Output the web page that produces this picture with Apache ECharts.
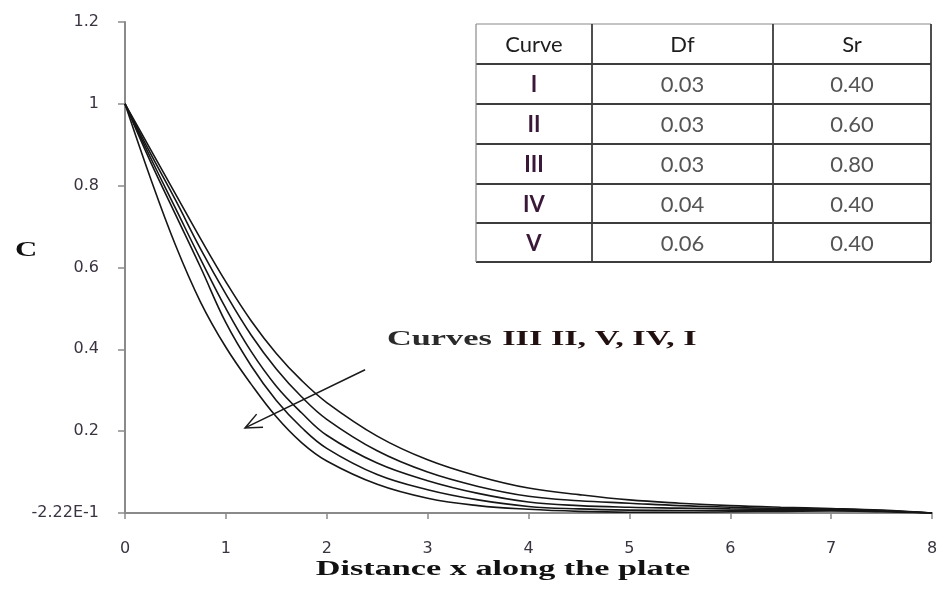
<!DOCTYPE html>
<html>
<head>
<meta charset="utf-8">
<title>Concentration profiles</title>
<script src="https://cdn.jsdelivr.net/npm/echarts@6/dist/echarts.min.js"></script>
<style>
  html, body { margin: 0; padding: 0; background: #ffffff; }
  #chart { width: 943px; height: 590px; }
</style>
</head>
<body>
<div id="chart"></div>
<script>
// Distance along the plate where C is sampled
const xValues = [0, 0.25, 0.5, 0.75, 1, 1.25, 1.5, 1.75, 2, 2.5, 3, 3.5, 4, 4.5, 5, 5.5, 6, 6.5, 7, 7.5, 8];

// Concentration C for each curve
const curveI   = [1, 0.82, 0.655, 0.515, 0.405, 0.315, 0.235, 0.172, 0.127, 0.07, 0.036, 0.018, 0.009, 0.004, 0.002, 0.002, 0.003, 0.004, 0.005, 0.003, 0];
const curveIV  = [1, 0.86, 0.73, 0.60, 0.465, 0.36, 0.275, 0.209, 0.158, 0.094, 0.057, 0.032, 0.016, 0.01, 0.007, 0.006, 0.006, 0.007, 0.007, 0.005, 0];
const curveV   = [1, 0.87, 0.745, 0.62, 0.50, 0.395, 0.31, 0.245, 0.19, 0.122, 0.079, 0.048, 0.027, 0.018, 0.014, 0.012, 0.01, 0.009, 0.008, 0.005, 0];
const curveII  = [1, 0.88, 0.765, 0.645, 0.535, 0.435, 0.352, 0.284, 0.229, 0.152, 0.1, 0.065, 0.041, 0.03, 0.024, 0.018, 0.014, 0.011, 0.009, 0.006, 0];
const curveIII = [1, 0.89, 0.78, 0.67, 0.565, 0.47, 0.39, 0.324, 0.27, 0.188, 0.13, 0.09, 0.061, 0.045, 0.032, 0.024, 0.018, 0.014, 0.011, 0.007, 0];

// Parameter table
const tableHeader = ['Curve', 'Df', 'Sr'];
const tableCurves = ['I', 'II', 'III', 'IV', 'V'];
const tableDf = ['0.03', '0.03', '0.03', '0.04', '0.06'];
const tableSr = ['0.40', '0.60', '0.80', '0.40', '0.40'];

// Axis tick labels
const yZeroLabel = '-2.22E-1';

// Annotation text and arrow (data coordinates)
const annotationPrefix = 'Curves';
const annotationOrder = 'III II, V, IV, I';
const arrowFrom = [2.38, 0.35];
const arrowTo = [1.19, 0.208];

const chart = echarts.init(document.getElementById('chart'), null, { renderer: 'canvas' });

function pairs(ys) {
  return xValues.map((x, i) => [x, ys[i]]);
}

const curveColor = '#161616';
const seriesList = [curveI, curveIV, curveV, curveII, curveIII].map((ys, i) => ({
  type: 'line',
  name: ['I', 'IV', 'V', 'II', 'III'][i],
  data: pairs(ys),
  smooth: 0.4,
  showSymbol: false,
  symbol: 'none',
  lineStyle: { color: curveColor, width: 1.6 },
  itemStyle: { color: curveColor },
  silent: true
}));

const axisGray = '#8a8a8a';
const tickFont = { fontFamily: 'DejaVu Sans', fontSize: 16, color: '#3a3340' };

// Table geometry
const colEdges = [476, 592, 773, 931];
const rowEdges = [24, 64, 104, 144, 184, 223, 262];

function buildTable() {
  const els = [];
  els.push({
    type: 'rect',
    shape: { x: colEdges[0], y: rowEdges[0], width: colEdges[3] - colEdges[0], height: rowEdges[6] - rowEdges[0] },
    style: { fill: '#ffffff' }, silent: true, z: 10
  });
  rowEdges.forEach((y, i) => {
    els.push({
      type: 'line', shape: { x1: colEdges[0], y1: y, x2: colEdges[3], y2: y },
      style: { stroke: i === 0 ? '#8a8a8a' : '#3c3c3c', lineWidth: i === 0 ? 1.2 : 1.8 }, silent: true, z: 11
    });
  });
  colEdges.forEach((x, i) => {
    els.push({
      type: 'line', shape: { x1: x, y1: rowEdges[0], x2: x, y2: rowEdges[6] },
      style: { stroke: i === 0 ? '#8a8a8a' : '#3c3c3c', lineWidth: i === 0 ? 1.2 : 1.8 }, silent: true, z: 11
    });
  });
  function cellText(text, col, row, opts) {
    const cx = (colEdges[col] + colEdges[col + 1]) / 2;
    const cy = (rowEdges[row] + rowEdges[row + 1]) / 2;
    return {
      type: 'text', x: cx, y: cy + 1, silent: true, z: 12,
      style: Object.assign({
        text: text, align: 'center', verticalAlign: 'middle',
        textAlign: 'center', textVerticalAlign: 'middle',
        fontFamily: 'Lato', fontSize: 22, fill: '#222222'
      }, opts || {})
    };
  }
  tableHeader.forEach((h, c) => els.push(cellText(h, c, 0, { fill: '#1e1e1e' })));
  tableCurves.forEach((name, r) => {
    els.push(cellText(name, 0, r + 1, { fontWeight: 'bold', fill: '#3a1838' }));
    els.push(cellText(tableDf[r], 1, r + 1, { fill: '#555555' }));
    els.push(cellText(tableSr[r], 2, r + 1, { fill: '#555555' }));
  });
  return els;
}

const serifFont = "'Liberation Serif', 'Times New Roman', serif";

function buildTexts() {
  return [
    {
      type: 'text', x: 503, y: 570, scaleX: 1.63, silent: true,
      style: {
        text: 'Distance x along the plate', align: 'center', verticalAlign: 'middle',
        textAlign: 'center', textVerticalAlign: 'middle',
        fontFamily: serifFont, fontWeight: 'bold', fontSize: 21, fill: '#111111'
      }
    },
    {
      type: 'text', x: 26, y: 250, scaleX: 1.4, silent: true,
      style: {
        text: 'C', align: 'center', verticalAlign: 'middle',
        textAlign: 'center', textVerticalAlign: 'middle',
        fontFamily: serifFont, fontWeight: 'bold', fontSize: 22, fill: '#111111'
      }
    },
    {
      type: 'text', x: 387, y: 339, scaleX: 1.56, silent: true,
      style: {
        text: '{a|' + annotationPrefix + '}  {b|' + annotationOrder + '}',
        align: 'left', verticalAlign: 'middle', textAlign: 'left', textVerticalAlign: 'middle',
        rich: {
          a: { fontFamily: serifFont, fontWeight: 'bold', fontSize: 22, fill: '#2a2a2a', color: '#2a2a2a' },
          b: { fontFamily: serifFont, fontWeight: 'bold', fontSize: 22, fill: '#221010', color: '#221010' }
        }
      }
    }
  ];
}

const option = {
  backgroundColor: '#ffffff',
  animation: false,
  grid: { left: 125, right: 11, top: 22, bottom: 77, containLabel: false, outerBoundsMode: 'none' },
  xAxis: {
    type: 'value', min: 0, max: 8, interval: 1,
    axisLine: { show: true, onZero: false, lineStyle: { color: axisGray, width: 2 } },
    axisTick: { show: true, inside: false, length: 6, lineStyle: { color: axisGray, width: 1.5 } },
    splitLine: { show: false },
    axisLabel: Object.assign({ margin: 28 }, tickFont)
  },
  yAxis: {
    type: 'value', min: 0, max: 1.2, interval: 0.2,
    axisLine: { show: true, onZero: false, lineStyle: { color: axisGray, width: 2 } },
    axisTick: { show: true, inside: false, length: 7, lineStyle: { color: axisGray, width: 1.5 } },
    splitLine: { show: false },
    axisLabel: Object.assign({
      margin: 26,
      formatter: function (v) { return v === 0 ? yZeroLabel : String(Math.round(v * 10) / 10); }
    }, tickFont)
  },
  series: seriesList,
  graphic: { elements: buildTable().concat(buildTexts()) }
};

chart.setOption(option);

// Arrow pointing across the curves, positioned through the series' coordinate system
function arrowElements() {
  const p0 = chart.convertToPixel({ seriesIndex: 0 }, arrowFrom);
  const p1 = chart.convertToPixel({ seriesIndex: 0 }, arrowTo);
  if (!p0 || !p1) return [];
  const ang = Math.atan2(p0[1] - p1[1], p0[0] - p1[0]);
  const headLen = 18, spread = 0.42;
  const h1 = [p1[0] + headLen * Math.cos(ang + spread), p1[1] + headLen * Math.sin(ang + spread)];
  const h2 = [p1[0] + headLen * Math.cos(ang - spread), p1[1] + headLen * Math.sin(ang - spread)];
  return [
    { type: 'line', silent: true, z: 20, shape: { x1: p0[0], y1: p0[1], x2: p1[0], y2: p1[1] },
      style: { stroke: '#1a1a1a', lineWidth: 1.5 } },
    { type: 'polyline', silent: true, z: 20, shape: { points: [h1, p1, h2] },
      style: { stroke: '#1a1a1a', lineWidth: 1.5, fill: null } }
  ];
}

option.graphic = { elements: buildTable().concat(buildTexts()).concat(arrowElements()) };
chart.setOption(option, true);
</script>
</body>
</html>
